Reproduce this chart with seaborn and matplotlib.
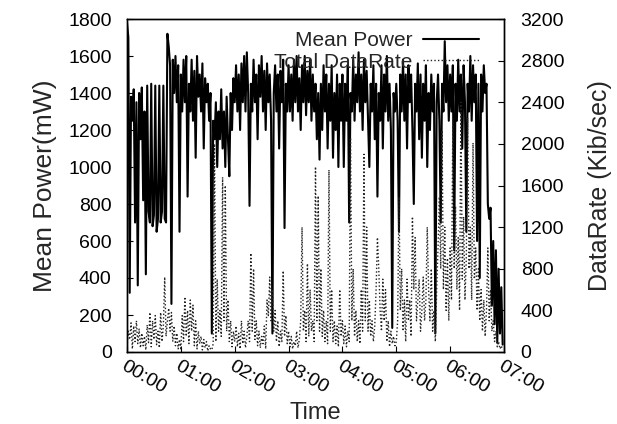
import numpy as np
import pandas as pd
import matplotlib
matplotlib.use("Agg")
import matplotlib.pyplot as plt
import seaborn as sns

# ---- data ----
time_labels = ["00:00", "01:00", "02:00", "03:00", "04:00", "05:00", "06:00", "07:00"]
step_hours = 1.5 / 60.0  # one sample every 1.5 minutes

power_h0 = [1780, 1700, 320, 1380, 1250, 1420, 700, 1350, 360, 1400, 1150, 1430, 820, 1300, 420, 1440,
            760, 700, 1450, 680, 740, 1440, 650, 720, 1440, 700, 760, 1440, 720, 700, 1720, 1650, 1550, 260,
            1580, 1400, 1600, 1350, 1550, 650]
power_h1 = [1500, 1300, 1580, 1350, 1600, 840, 1450, 1300, 1580, 1250, 1520, 1050, 1600, 1380, 1500, 1300,
            1560, 1100, 1480, 1350, 1450, 1250, 1400, 100, 1250, 1150, 1350, 1000, 1300, 1150, 1420, 1100,
            1300, 1000, 1380, 1150, 950, 1400, 1200, 1480]
power_h2 = [1350, 1550, 1300, 1500, 1200, 1560, 1350, 1600, 1300, 1620, 1400, 790, 1450, 1300, 1580, 1350,
            1500, 1150, 1550, 1380, 1600, 1300, 1520, 1200, 1560, 1350, 1500, 1250, 100, 1400, 1550, 1300,
            1500, 1100, 1520, 1350, 1580, 670, 1450, 1300]
power_h3 = [1550, 1300, 1500, 1250, 1580, 1350, 1600, 1300, 1480, 1200, 1550, 1350, 1600, 1280, 1520, 1350,
            1580, 1250, 1500, 1300, 1450, 1150, 1400, 1040, 1450, 1200, 1550, 1300, 1500, 1100, 1450, 1250,
            1550, 1050, 1400, 1200, 1500, 1000, 1450, 1250]
power_h4 = [1500, 1000, 1450, 1250, 1550, 700, 1400, 1300, 1580, 1250, 1500, 1350, 1620, 1300, 1500, 1200,
            1580, 1350, 1520, 1250, 1000, 1450, 1300, 1550, 1150, 1450, 840, 1400, 1250, 1550, 1100, 1500,
            1300, 1600, 1250, 1450, 1200, 130, 1400, 1300]
power_h5 = [1450, 1250, 650, 1500, 1300, 1580, 1250, 1500, 1100, 1550, 1350, 1500, 1200, 800, 1450, 1300,
            1560, 1150, 1500, 1050, 1450, 1250, 1550, 1000, 1400, 1200, 1500, 1300, 1450, 100, 1350, 1500,
            1250, 700, 1450, 1300, 1680, 1350, 1550, 1250]
power_h6 = [1500, 1300, 1550, 550, 1450, 1250, 1580, 1300, 1500, 1100, 1550, 1350, 650, 1450, 1300, 1600,
            1250, 1550, 1350, 1500, 600, 1450, 400, 1500, 1300, 1550, 1400, 1450, 800, 720, 780, 250,
            600, 150, 550, 50, 450, 100, 350, 40]

rate_h0 = [50, 200, 120, 280, 30, 250, 100, 300, 80, 220, 40, 180, 60, 150, 20, 260, 90, 380, 50, 300,
           120, 350, 70, 200, 40, 380, 100, 250, 720, 150, 300, 420, 200, 380, 100, 250, 60, 180, 30, 120]
rate_h1 = [20, 350, 100, 530, 150, 400, 80, 500, 200, 450, 60, 300, 30, 200, 80, 150, 20, 120, 40, 100,
           10, 60, 30, 20, 80, 2000, 100, 700, 200, 400, 150, 1680, 300, 1600, 200, 500, 100, 300, 50, 200]
rate_h2 = [100, 250, 50, 180, 30, 300, 80, 200, 40, 150, 300, 100, 950, 200, 800, 120, 300, 60, 200, 40,
           150, 80, 250, 30, 500, 350, 720, 300, 600, 200, 400, 100, 300, 50, 200, 100, 780, 150, 350, 80]
rate_h3 = [200, 50, 150, 30, 100, 60, 200, 40, 120, 300, 1200, 200, 400, 100, 850, 150, 600, 200, 300, 100,
           1780, 300, 1500, 200, 800, 150, 400, 100, 300, 80, 1750, 200, 600, 100, 300, 80, 250, 50, 600, 150]
rate_h4 = [300, 80, 250, 50, 200, 100, 2060, 300, 800, 150, 400, 100, 300, 80, 600, 200, 1900, 300, 1200, 200,
           500, 150, 300, 100, 250, 600, 1100, 800, 400, 200, 700, 300, 600, 100, 300, 50, 200, 80, 150, 60]
rate_h5 = [100, 300, 1490, 400, 800, 200, 500, 100, 700, 300, 500, 150, 1300, 600, 1100, 300, 500, 700, 200, 400,
           720, 300, 500, 1200, 600, 300, 800, 200, 400, 100, 600, 1000, 1490, 800, 2130, 600, 1200, 400, 900, 300]
rate_h6 = [1000, 500, 2230, 800, 1400, 600, 1100, 400, 2400, 700, 1300, 500, 900, 2250, 800, 1200, 500, 2010, 700, 1000,
           400, 800, 300, 600, 200, 500, 150, 400, 1000, 300, 600, 200, 300, 100, 200, 50, 100, 30, 60, 20]

power = power_h0 + power_h1 + power_h2 + power_h3 + power_h4 + power_h5 + power_h6
rate = rate_h0 + rate_h1 + rate_h2 + rate_h3 + rate_h4 + rate_h5 + rate_h6
hours = np.arange(len(power)) * step_hours

df = pd.DataFrame({"hours": hours, "power": power, "rate": rate})

# ---- style ----
sns.set_style("ticks")
plt.rcParams["font.family"] = ["Liberation Sans", "DejaVu Sans"]

fig = plt.figure(figsize=(6.17, 4.24), dpi=100)
ax = fig.add_axes([127 / 617, 1 - 352 / 424, (504 - 127) / 617, (352 - 19) / 424])
ax2 = ax.twinx()

sns.lineplot(data=df, x="hours", y="power", ax=ax, color="black", linewidth=1.5,
             label="Mean Power", legend=False)
sns.lineplot(data=df, x="hours", y="rate", ax=ax2, color="#222222", linewidth=1.0,
             linestyle=(0, (1, 1.6)), label="Total DataRate", legend=False)

ax.set_xlim(0, 7)
ax.set_ylim(0, 1800)
ax2.set_ylim(0, 3200)
ax.set_yticks(np.arange(0, 1801, 200))
ax2.set_yticks(np.arange(0, 3201, 400))
ax.set_xticks(np.arange(0, 8))
ax.set_xticklabels(time_labels, rotation=-30, ha="left", va="top", rotation_mode="anchor")

for a in (ax, ax2):
    for s in a.spines.values():
        s.set_linewidth(1.0)
        s.set_color("black")
ax.tick_params(axis="both", direction="in", length=4, width=0.8, labelsize=14, colors="black")
ax.tick_params(axis="x", pad=4)
ax.tick_params(axis="y", pad=11)
ax2.tick_params(axis="y", direction="in", length=4, width=0.8, labelsize=14, colors="black", pad=12)

ax.set_xlabel("Time", fontsize=17)
ax.xaxis.set_label_coords(0.5, -0.15)
ax.set_ylabel("Mean Power(mW)", fontsize=19, labelpad=8)
ax2.set_ylabel("DataRate (Kib/sec)", fontsize=18, labelpad=17)

h1, l1 = ax.get_legend_handles_labels()
h2, l2 = ax2.get_legend_handles_labels()
leg = ax.legend(h1 + h2, l1 + l2, loc="upper right", bbox_to_anchor=(0.945, 0.975),
                frameon=False, markerfirst=False, fontsize=15, handlelength=2.7,
                handletextpad=0.5, labelspacing=0.1, borderpad=0.2, borderaxespad=0.0)
leg.set_zorder(10)

fig.savefig("out.png", dpi=100)
